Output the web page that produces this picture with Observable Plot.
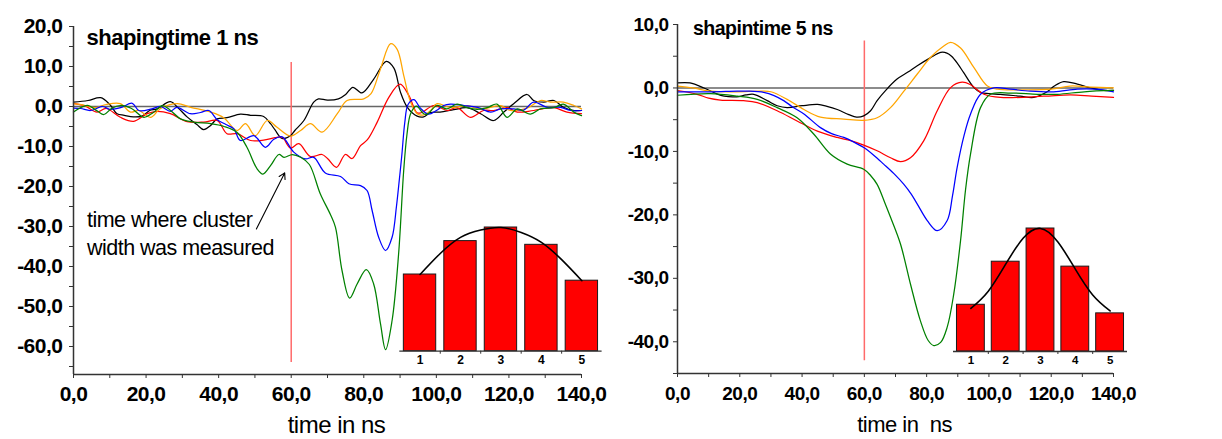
<!DOCTYPE html>
<html><head><meta charset="utf-8">
<script src="https://cdn.jsdelivr.net/npm/d3@7"></script>
<script src="https://cdn.jsdelivr.net/npm/@observablehq/plot@0.6"></script>
<style>
html,body{margin:0;padding:0;background:#fff;}
#wrap{position:relative;width:1222px;height:439px;overflow:hidden;background:#fff;}
#wrap svg{position:absolute;overflow:visible;max-width:none;background:transparent;}
</style></head><body><div id="wrap"></div>
<script>
// ---------------- DATA ----------------
const seriesNames = ["black", "red", "orange", "blue", "green"];
const seriesColors = ["#000000", "#ff0000", "#ff7a00", "#0000ff", "#007a00"];

// Left panel: shaping time 1 ns  [time ns, amplitude]
const left_black = [[0,1.1],[4,1.5],[7.5,2.2],[10,0.5],[12,-1.8],[14,-2.2],[16.5,-2.6],[18.9,-2.4],[21,-1],[23,-0.6],[26.7,1.2],[29,-0.5],[31.3,-2.6],[34,-4.5],[35.9,-5.8],[37.7,-4.8],[39.6,-3.1],[42.3,-2.8],[46,-1.9],[48.8,-2.2],[52.4,-2.5],[54.3,-4.3],[55.5,-5.8],[57.5,-8],[59.8,-7.3],[61,-6],[63.5,-3.5],[66.2,1.1],[67.5,1.9],[70,1.6],[73,1.9],[75,3],[77,4.8],[79.5,3.4],[82.7,6.8],[86.2,11.3],[88.3,9.6],[90.1,3.6],[92,-0.2],[94.7,-2.4],[96.5,-2.6],[98.4,-1.5],[101,-1.4],[104.8,-0.8],[108.5,-0.3],[112.2,-1.8],[115.8,-3.5],[118.6,-1.4],[121.3,0.7],[125,3],[126.8,1.5],[129.6,1.1],[132.4,1.5],[135,-0.2],[138,-1],[140,-1]];
const left_orange = [[0,0.7],[3,0.3],[6,-0.3],[9,0.5],[12.9,0.7],[15.7,-1.4],[18,-1],[21.2,-2.7],[24,-0.5],[28.6,0.7],[32.3,-0.2],[37.8,-1.4],[41.4,-2.8],[45.1,-6],[47.4,-4.3],[50.1,-7.3],[53.4,-3.5],[56.1,-5.2],[59.8,-7.4],[62.6,-6],[65.3,-4.3],[68.5,-6.4],[72.7,-1.8],[75.4,1.5],[80,1.9],[82,3.2],[84.6,9.4],[87.4,15.7],[89.2,14.3],[91,7.8],[92.9,1.1],[94.7,-1.8],[96.5,-2.1],[98.4,-1],[100.2,0.7],[104,-0.3],[108.5,0.2],[112.2,-0.7],[117.7,0.2],[120.4,-1],[125,-0.4],[128.7,1.5],[131.4,1.1],[135,1.1],[137.9,0.25],[140,-0.6]];
const left_red = [[0,0.8],[3,0.2],[6.5,-1.4],[9,-0.5],[12.9,-2.7],[16.6,-3.7],[20.3,-1.8],[23,-1.2],[26.7,-1.8],[31.3,-3.8],[35.9,-3.9],[39.6,-3.5],[42.3,-6.8],[45.1,-6.8],[48.8,-8.5],[52.4,-8.4],[55.5,-7.8],[57.5,-7.7],[59.8,-10.4],[62.1,-9.3],[65.3,-12.5],[68.5,-12],[70,-13],[72.5,-15.2],[74.9,-12],[76.8,-13],[79.1,-9.8],[81,-8.3],[83.7,-3.9],[86.9,2.3],[90,5.6],[92.4,2.8],[94.7,-1.6],[96,-1.5],[99.3,0.25],[103,-1],[105.7,-0.3],[109.4,-2.7],[113,-1],[115.8,-1],[119.5,-0.3],[122.3,-1.4],[126.8,-1],[132.4,-0.3],[136,-1.4],[140,-1.8]];
const left_blue = [[0,-0.4],[2,-0.5],[4.7,-1],[8,0],[10,-0.7],[13,-0.3],[16.2,0.8],[18,-1],[21.6,-0.6],[24,0],[26.7,-1.2],[28.5,-0.2],[32.2,-1.8],[35,-1.5],[37.3,-1],[39.6,-3.3],[42,-4.5],[44.2,-5.6],[46,-8.5],[49.7,-7.3],[52.9,-10.2],[55.2,-8.2],[57.5,-7.6],[60.7,-11.4],[63.9,-13.1],[66.2,-12.7],[69.4,-16.6],[73.6,-17.5],[75.9,-19.3],[79.1,-19.8],[80.9,-21],[82.3,-26],[84.1,-32.7],[86,-36],[87.8,-32.7],[89,-25],[89.6,-20],[90.5,-12],[91.3,-4],[92.2,0.5],[93.8,1.7],[95.6,-0.4],[97.8,-1.9],[100,-1],[102,0.25],[103.9,0.6],[107.6,0.25],[111.3,-0.2],[115,-1.4],[117.7,-0.6],[121.3,-0.6],[124.1,-0.9],[126.8,1.1],[130.5,-0.2],[134.2,-0.2],[136.9,-1],[140,-1]];
const left_green = [[0,-1.4],[3.8,0.3],[6.5,-1.1],[8.4,-2],[10.5,-0.5],[12.9,0.25],[16,-0.5],[19.4,-2.7],[22,-1.5],[24.5,0.2],[26.5,-0.8],[29.5,-3.1],[33.1,-3.9],[37.8,-4.3],[41.5,-5],[45.1,-6.5],[47.8,-10.2],[50.6,-15.6],[52.2,-16.9],[54.3,-14.8],[56.6,-12],[58,-12.7],[60.3,-12],[62.6,-12.7],[65,-14.5],[68,-21.8],[70.8,-27],[72.2,-30.2],[74,-41],[76.1,-47.9],[78.2,-44.3],[80.7,-40.8],[82.7,-44.3],[84.6,-54.3],[86,-60.8],[87.8,-53.5],[89.6,-36.8],[91,-16],[91.9,-7],[92.9,-1.8],[94.5,0.1],[96.5,-1.8],[97.5,-1.9],[100.2,0.25],[102.9,-0.6],[105.7,0.6],[108.5,-0.3],[111.3,-0.7],[114,-0.3],[116.7,0.6],[119.5,-2.7],[122.3,-0.6],[125.9,-1.9],[128.7,-0.6],[132.4,-0.3],[135,0.6],[137.9,-1.4],[140,-2.3]];

// Right panel: shaping time 5 ns
const right_black = [[0,0.8],[4,0.8],[8.5,0],[12,-0.8],[15,-1.3],[19,-1.4],[22,-1.1],[24.5,-1],[28.8,-2],[32,-2.8],[35.2,-3.1],[40,-2.8],[45,-2.6],[48,-2.9],[51.3,-3.4],[55,-4.2],[57.5,-4.6],[59.8,-4.4],[62,-3.6],[64.1,-2],[67,-0.3],[70.5,1.4],[74,2.5],[77,3.5],[81,4.7],[84.5,5.6],[86.5,5.5],[88,5],[90,3.8],[91.9,2.4],[95.2,0.05],[97.3,-0.7],[100,-0.9],[103.7,-1],[110,-1.3],[114.4,-1.5],[118.7,-0.6],[121,0.3],[124,1],[128.4,0.6],[132.7,0],[136.9,-0.4],[140,-0.4]];
const right_orange = [[0,0.3],[5,0],[10.6,-0.5],[19,-0.6],[26.7,-0.5],[30,-0.6],[35.2,-1.8],[40.6,-3.4],[45.9,-4.6],[53.4,-4.9],[59.8,-5.1],[64.1,-4.7],[68.4,-3.1],[72.7,-0.5],[77,2.2],[81.2,4.8],[85.5,6.6],[87.7,7.2],[90.9,6.3],[95.2,3.2],[99.5,0.3],[102.7,-0.2],[110,-0.3],[120,-0.2],[126,0.3],[132.7,0.15],[140,0]];
const right_red = [[0,-0.4],[6.3,-1],[10,-1.6],[13.8,-1.9],[21.2,-2],[25.6,-2.3],[32,-3.6],[38.4,-5.2],[44.9,-6.8],[51.3,-7.8],[55.6,-8.3],[59.8,-9],[64.1,-9.9],[68.4,-11],[71.6,-11.6],[74.8,-11],[79.1,-8.3],[83.4,-3.6],[87.7,0.05],[91.4,0.9],[94.1,0.5],[98.4,-1],[103.7,-1.5],[117.6,-1.3],[126.2,-1.1],[133,-1.3],[140,-1.5]];
const right_blue = [[0,-0.6],[10.6,-0.6],[19.2,-0.5],[23,-0.5],[27.7,-0.7],[31,-1.2],[34.1,-2],[37,-3],[40.6,-4.1],[45.9,-6.25],[49.5,-7.2],[53.4,-7.8],[56.5,-8.5],[59.8,-9.4],[63,-10.6],[66.2,-12],[69.5,-13.5],[72.7,-15.2],[75,-16.7],[77,-18.3],[80.2,-20.9],[83.4,-22.5],[86.6,-20.9],[88.3,-17],[89.8,-12.5],[92,-7.5],[94.1,-4.1],[97.3,-1],[101.6,0],[106.9,-0.2],[113.3,-0.5],[120.8,-0.6],[128.4,-0.2],[134,-0.2],[140,-0.6]];
const right_green = [[0,-1.15],[10.6,-0.9],[19.2,-1.3],[25.6,-1.8],[32,-3.1],[38.4,-4.7],[43.8,-7.3],[49.1,-10.4],[54.5,-12],[59.8,-12.8],[62,-13.8],[64.1,-15.2],[66.5,-18],[68.5,-20.5],[71.6,-24.6],[74.8,-30.9],[78,-36.7],[80.5,-39.8],[82.3,-40.6],[84.5,-40.1],[86.6,-37.7],[88.7,-32.5],[90.9,-24],[92.5,-16],[94.1,-10.4],[97.3,-3.1],[100.5,-1],[107,-0.8],[115.6,-1],[122,-1],[130.6,-0.6],[140,-0.4]];

// Axes / ticks
const xTicks = [0, 20, 40, 60, 80, 100, 120, 140];
const xMinorTicks = [10, 30, 50, 70, 90, 110, 130];
const leftYTicks = [-60, -50, -40, -30, -20, -10, 0, 10, 20];
const leftYMinorTicks = [-65, -55, -45, -35, -25, -15, -5, 5, 15];
const rightYTicks = [-40, -30, -20, -10, 0, 10];
const rightYMinorTicks = [-45, -35, -25, -15, -5, 5];
const xDomain = [0, 140];
const leftYDomain = [-67, 20];
const rightYDomain = [-45, 10];

// Measurement time marker [time, y from, y to]
const leftMarker = [60, -64, 11];
const rightMarker = [60, -43, 7.4];

// Titles and labels
const leftTitle = "shapingtime 1 ns";
const rightTitle = "shapintime 5 ns";
const leftXLabel = "time in ns";
const rightXLabel = "time in  ns";
const annotationLines = ["time where cluster", "width was measured"];
const annotationPos = [[3.7, -30.2], [3.7, -37.1]];
const annotationArrow = [50.4, -30.6, 58.2, -16.6];

// Insets: cluster width (strip 1..5), relative amplitude
const strips = [1, 2, 3, 4, 5];
const leftInsetBars = [62, 89, 100, 86, 57];
const rightInsetBars = [38, 73, 100, 69, 31];
const fitX = [1, 1.5, 2, 2.5, 3, 3.5, 4, 4.5, 5];
const leftInsetFit = [62, 79, 92, 98, 100, 96, 88, 74, 57];
const rightInsetFit = [35, 49, 71, 92, 100, 89, 67, 46, 33];
const insetTickMarks = [1.5, 2.5, 3.5, 4.5];

// ---------------- DRAWING ----------------
const fmt = d => d.toFixed(1).replace(".", ",");
const FONT = "'Liberation Sans', Arial, Helvetica, sans-serif";
const wrap = document.getElementById("wrap");

function place(svg, left, top) {
  svg.style.left = left + "px";
  svg.style.top = top + "px";
  wrap.appendChild(svg);
}

function rowsOf(list) {
  const rows = [];
  list.forEach(([name, data]) => data.forEach(([t, v]) => rows.push({name, t, v})));
  return rows;
}

function panel(cfg) {
  const rows = rowsOf(cfg.series);
  const marks = [
    Plot.ruleY([0], {x1: xDomain[0], x2: xDomain[1], stroke: "#666", strokeWidth: 1.5}),
    Plot.ruleX([cfg.marker[0]], {y1: cfg.marker[1], y2: cfg.marker[2], stroke: "#ff6a6a", strokeWidth: 1.5}),
    Plot.line(rows, {x: "t", y: "v", z: "name", stroke: "name", curve: "catmull-rom", strokeWidth: 1.25}),
    Plot.ruleX([xDomain[0]], {stroke: "#333", strokeWidth: 1.5}),
    Plot.ruleY([cfg.yDomain[0]], {stroke: "#333", strokeWidth: 1.5}),
    Plot.axisY({ticks: cfg.yTicks, tickSize: 4, tickPadding: cfg.yPad, tickFormat: fmt, label: null, stroke: "#333"}),
    Plot.axisY({ticks: cfg.yMinor, tickSize: 4, tickFormat: () => "", label: null, stroke: "#333"}),
    Plot.axisX({ticks: xTicks, tickSize: 4, tickPadding: cfg.xPad, tickFormat: fmt, label: null, stroke: "#333"}),
    Plot.axisX({ticks: xMinorTicks, tickSize: 4, tickFormat: () => "", label: null, stroke: "#333"}),
    Plot.text([cfg.title], {frameAnchor: "top-left", textAnchor: "start", lineAnchor: "bottom", dx: cfg.titleDx, dy: cfg.titleDy, fontSize: cfg.titleSize, fontWeight: "bold"}),
    Plot.text([cfg.xLabel], {frameAnchor: "bottom", lineAnchor: "bottom", dx: cfg.labelDx, dy: cfg.labelDy, fontSize: cfg.labelSize, fontWeight: "normal"})
  ];
  if (cfg.extra) marks.push(...cfg.extra);
  return Plot.plot({
    width: cfg.width, height: 439,
    marginLeft: cfg.ml, marginRight: cfg.mr, marginTop: cfg.mt, marginBottom: cfg.mb,
    x: {domain: xDomain, axis: null},
    y: {domain: cfg.yDomain, axis: null},
    color: {type: "ordinal", domain: seriesNames, range: seriesColors},
    style: {fontFamily: FONT, fontSize: cfg.fontSize + "px", fontWeight: "bold", color: "#000", letterSpacing: "-0.5px", background: "transparent", overflow: "visible"},
    marks
  });
}

const leftSvg = panel({
  width: 610, ml: 73, mr: 29, mt: 26, mb: 65, fontSize: 21,
  yDomain: leftYDomain, yTicks: leftYTicks, yMinor: leftYMinorTicks, yPad: 7, xPad: 8,
  marker: leftMarker, title: leftTitle, titleDx: 13, titleDy: 18.5, titleSize: 22,
  xLabel: leftXLabel, labelDx: 9, labelDy: 58, labelSize: 24,
  series: [["black", left_black], ["red", left_red], ["orange", left_orange], ["blue", left_blue], ["green", left_green]],
  extra: [
    Plot.text(annotationLines, {x: (d, i) => annotationPos[i][0], y: (d, i) => annotationPos[i][1], text: d => d, textAnchor: "start", lineAnchor: "bottom", fontSize: 21.5, fontWeight: "normal"}),
    Plot.arrow([annotationArrow], {x1: d => d[0], y1: d => d[1], x2: d => d[2], y2: d => d[3], stroke: "#000", strokeWidth: 1.1, headLength: 9})
  ]
});
place(leftSvg, 0, 0);

const rightSvg = panel({
  width: 612, ml: 67, mr: 109, mt: 24, mb: 66, fontSize: 19,
  yDomain: rightYDomain, yTicks: rightYTicks, yMinor: rightYMinorTicks, yPad: 5, xPad: 9,
  marker: rightMarker, title: rightTitle, titleDx: 15.5, titleDy: 10.5, titleSize: 19.5,
  xLabel: rightXLabel, labelDx: 9, labelDy: 58, labelSize: 22,
  series: [["black", right_black], ["red", right_red], ["orange", right_orange], ["blue", right_blue], ["green", right_green]]
});
place(rightSvg, 610, 0);

function inset(cfg) {
  const bars = strips.map((s, i) => ({s, v: cfg.bars[i]}));
  const fit = fitX.map((x, i) => ({x, y: cfg.fit[i]}));
  return Plot.plot({
    width: cfg.width, height: cfg.height,
    marginLeft: cfg.ml, marginRight: cfg.mr, marginTop: cfg.mt, marginBottom: cfg.mb,
    x: {domain: [0.5, 5.5], axis: null},
    y: {domain: [0, 100], axis: null},
    style: {fontFamily: FONT, fontSize: cfg.fontSize + "px", fontWeight: "bold", color: "#000", background: "transparent", overflow: "visible"},
    marks: [
      Plot.rectY(bars, {x1: d => d.s - 0.4, x2: d => d.s + 0.4, y: "v", fill: "#ff0000", stroke: "#1a1a1a", strokeWidth: 1}),
      Plot.line(fit, {x: "x", y: "y", curve: "natural", stroke: "#000", strokeWidth: 1.6}),
      Plot.ruleY([0], {x1: 0.5, x2: 5.5, stroke: "#333", strokeWidth: 1.3}),
      Plot.axisX({ticks: strips, tickSize: 0, tickPadding: 4, tickFormat: d => String(d), label: null}),
      Plot.axisX({ticks: insetTickMarks, tickSize: 3, tickFormat: () => "", label: null, stroke: "#333"})
    ]
  });
}

place(inset({width: 240, height: 190, ml: 19.3, mr: 18.4, mt: 27, mb: 39.3, fontSize: 12, bars: leftInsetBars, fit: leftInsetFit}), 380, 200);
place(inset({width: 220, height: 190, ml: 23, mr: 23, mt: 28, mb: 39, fontSize: 11.5, bars: rightInsetBars, fit: rightInsetFit}), 930, 200);
</script></body></html>
